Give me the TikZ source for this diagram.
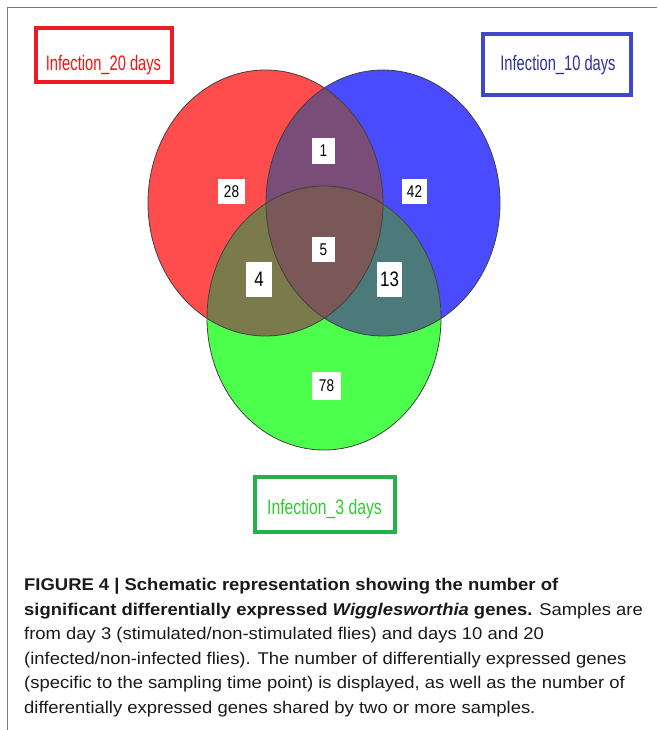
\documentclass[tikz,border=0pt]{standalone}
\usepackage{fontspec}
\setmainfont{Liberation Sans}
\newfontfamily\narrowf[FakeStretch=0.7]{Liberation Sans}
\newfontfamily\narrowg[FakeStretch=0.75]{Liberation Sans}
\newfontfamily\numf[FakeStretch=0.8]{Liberation Sans}
\newfontfamily\capf[FakeStretch=1.085]{Liberation Sans}
\definecolor{cRed}{HTML}{FF4D4D}
\definecolor{cBlue}{HTML}{4A4AFF}
\definecolor{cGreen}{HTML}{4DFF4D}
\definecolor{cRB}{HTML}{7A4D79}
\definecolor{cRG}{HTML}{7A7A4C}
\definecolor{cBG}{HTML}{4C7A7A}
\definecolor{cAll}{HTML}{7A5858}
\definecolor{bRed}{HTML}{ED1C24}
\definecolor{bBlue}{HTML}{3F48CC}
\definecolor{bGreen}{HTML}{22B14C}
\definecolor{tRed}{HTML}{FF1010}
\definecolor{tBlue}{HTML}{30309A}
\definecolor{tGreen}{HTML}{2ECC2E}
\definecolor{frameg}{HTML}{7A7A7A}
\definecolor{captext}{HTML}{1A1A1A}
\tikzset{
  lbox/.style={draw, line width=4pt, fill=white, inner sep=0pt},
  ltext/.style={anchor=base, inner sep=0pt, font=\narrowf\fontsize{21}{24}\selectfont},
  numbox/.style={fill=white, inner sep=0pt, font=\numf\fontsize{17}{20}\selectfont},
  numbig/.style={numbox, font=\numf\fontsize{21}{24}\selectfont},
  outline/.style={draw=black!75, line width=0.8pt}
}
\begin{document}
\begin{tikzpicture}[x=1pt,y=-1pt]
\useasboundingbox (0,0) rectangle (657,730);
% frame
\draw[frameg, line width=1.5pt] (7.5,730) -- (7.5,7.5) -- (657,7.5);
% circles
\def\red{(265.5,203) ellipse [x radius=117.5, y radius=133]}
\def\blue{(383,203) ellipse [x radius=117, y radius=133]}
\def\green{(324,318) ellipse [x radius=117, y radius=132]}
\fill[cRed] \red;
\fill[cBlue] \blue;
\fill[cGreen] \green;
\begin{scope}
  \clip \red;
  \fill[cRB] \blue;
  \fill[cRG] \green;
  \clip \blue;
  \fill[cAll] \green;
\end{scope}
\begin{scope}
  \clip \blue;
  \clip \green;
  \begin{scope}[even odd rule]
    \clip \red (0,0) rectangle (657,730);
    \fill[cBG] \green;
  \end{scope}
\end{scope}
\draw[outline] \red;
\draw[outline] \blue;
\draw[outline] \green;
% numbers
\node[numbox, minimum width=23, minimum height=26] (n1) at (323.5,151) {1};
\node[numbox, minimum width=27, minimum height=25] (n28) at (231.5,191.5) {28};
\node[numbox, minimum width=25, minimum height=25] (n42) at (414.5,191.5) {42};
\node[numbox, minimum width=23, minimum height=25] (n5) at (323.5,249.5) {5};
\node[numbig, minimum width=26, minimum height=35] (n4) at (259,279.5) {4};
\node[numbig, minimum width=25, minimum height=35] (n13) at (389.5,279.5) {13};
\node[numbox, minimum width=29, minimum height=28] (n78) at (326.5,386) {78};
% label boxes
\node[lbox, draw=bRed, minimum width=136.5, minimum height=54] (rbox) at (103.75,55) {};
\node[ltext, text=tRed] (rtxt) at (103.5,70.5) {Infection\_20 days};
\node[lbox, draw=bBlue, minimum width=148, minimum height=61] (bbox) at (557,64.5) {};
\node[ltext, text=tBlue] (btxt) at (558,71) {Infection\_10 days};
\node[lbox, draw=bGreen, minimum width=140, minimum height=55] (gbox) at (325,504.5) {};
\node[ltext, text=tGreen, font=\narrowg\fontsize{21}{24}\selectfont] (gtxt) at (324.5,514.3) {Infection\_3 days};
% caption
\node[anchor=base west, inner sep=0pt, align=left, text=captext, font=\capf\fontsize{17}{24.5}\selectfont] (cap) at (24,713)
{\textbf{FIGURE 4 | Schematic representation showing the number of}\\
\textbf{significant differentially expressed \textit{Wigglesworthia} genes.} Samples are\\
from day 3 (stimulated/non-stimulated flies) and days 10 and 20\\
(infected/non-infected flies). The number of differentially expressed genes\\
(specific to the sampling time point) is displayed, as well as the number of\\
differentially expressed genes shared by two or more samples.};
\end{tikzpicture}
\end{document}
